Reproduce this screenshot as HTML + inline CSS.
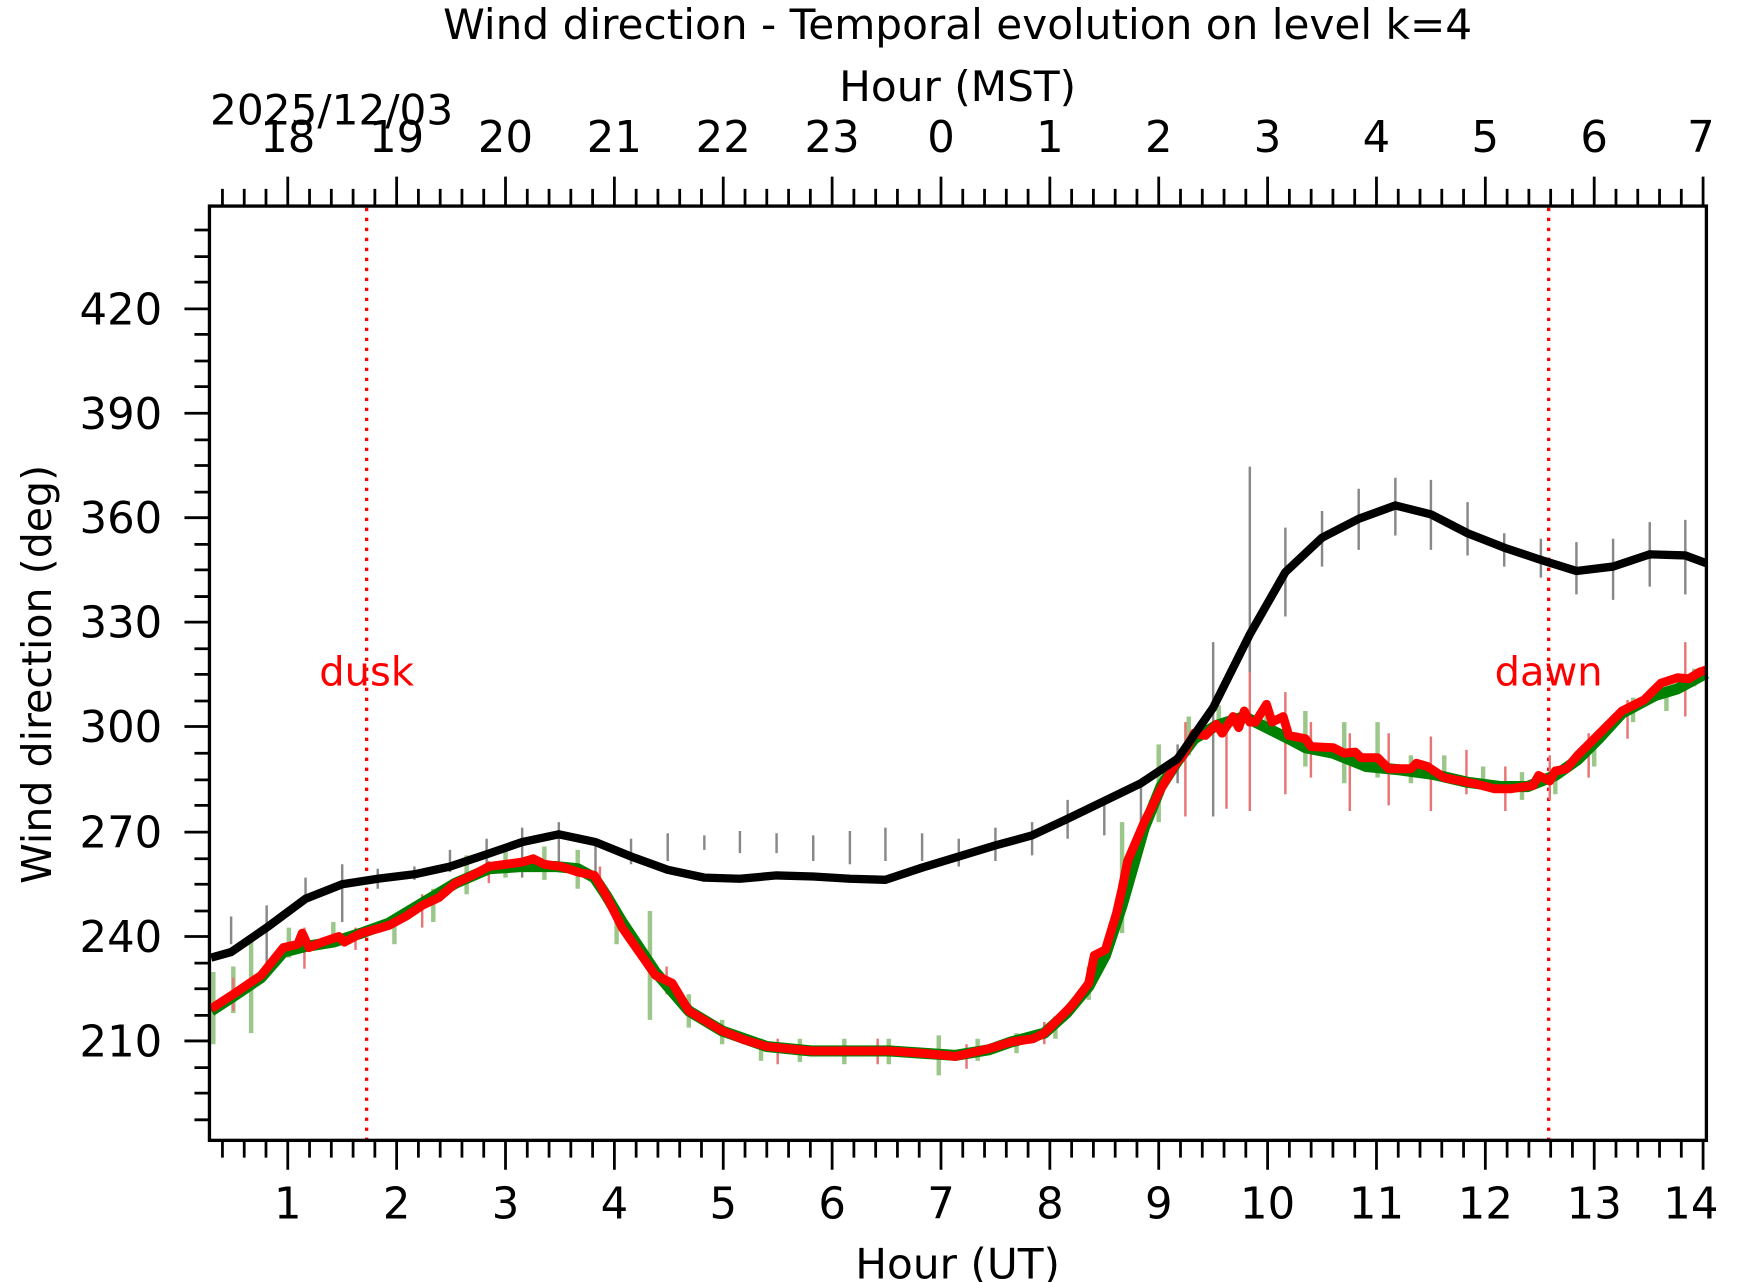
<!DOCTYPE html>
<html><head><meta charset="utf-8"><style>html,body{margin:0;padding:0;background:#fff}svg{display:block}</style></head>
<body>
<svg width="1742" height="1282" viewBox="0 0 1568 1154" xmlns="http://www.w3.org/2000/svg" font-family="DejaVu Sans, Liberation Sans, sans-serif">
<rect width="1568" height="1154" fill="#fff"/>
<line x1="330" y1="187" x2="330" y2="1026" stroke="red" stroke-width="3" stroke-dasharray="3,6"/>
<line x1="1394" y1="187" x2="1394" y2="1026" stroke="red" stroke-width="3" stroke-dasharray="3,6"/>
<text x="330" y="617" fill="red" font-size="36" text-anchor="middle">dusk</text>
<text x="1394" y="617" fill="red" font-size="36" text-anchor="middle">dawn</text>
<g stroke="#9cc78a" stroke-width="4">
<path d="M192 875V940M210 870V912M226 845V930M260 835V862M300 830V852M355 825V850M390 800V830M420 770V805M455 765V790M490 762V792M520 765V800M555 825V850M585 820V918M620 895V925M650 918V940M685 935V955M720 935V956M760 935V958M800 935V958M845 932V968M880 935V955M915 930V948M950 915V935M980 870V900M1010 740V840M1043 670V740M1070 645V680M1097 635V660M1140 640V655M1175 640V690M1210 650V705M1240 650V700M1270 680V705M1300 680V700M1335 690V710M1370 695V720M1400 690V715M1435 665V690M1470 628V650M1500 620V640M1525 602V618"/>
</g>
<g stroke="#e87575" stroke-width="2.2">
<path d="M210 880V910M274 835V872M320 835V855M380 805V835M440 775V795M540 780V800M600 870V895M700 935V958M790 935V958M870 940V962M940 920V940M1067 650V735M1104 655V728M1125 580V730M1157 623V715M1180 650V700M1215 660V730M1250 660V725M1288 663V730M1320 675V715M1355 690V730M1395 680V720M1430 660V700M1465 630V665M1517 578V645"/>
</g>
<g stroke="#888" stroke-width="2.2">
<path d="M208 825V850M240 815V870M275 790V812M308 778V830M340 782V800M373 780V792M405 765V785M438 755V780M470 745V790M503 740V780M536 755V790M568 755V778M601 750V775M634 752V765M666 748V768M699 750V768M732 752V775M765 748V778M797 745V775M830 750V775M863 755V780M896 745V775M929 740V770M961 720V755M994 718V752M1027 703V740M1060 670V705M1092 578V735M1125 420V605M1157 475V555M1190 460V510M1223 440V495M1256 430V482M1288 432V495M1321 452V500M1354 480V510M1387 485V520M1419 488V535M1452 485V540M1485 470V528M1517 468V535"/>
</g>
<polyline fill="none" stroke="#008000" stroke-width="10" stroke-linejoin="round" points="190,910 210,897 235,880 255,857 275,852 300,848 325,840 350,831 380,813 410,795 440,782 470,780 500,780 520,782 535,790 545,805 560,830 590,875 620,910 650,928 690,942 730,946 770,946 800,946 830,948 860,950 890,945 910,938 940,930 960,912 980,888 995,860 1010,815 1030,745 1045,708 1060,685 1075,665 1095,653 1120,645 1140,655 1160,665 1175,673 1200,678 1230,690 1260,693 1290,697 1320,704 1350,708 1375,708 1400,698 1420,684 1440,664 1460,642 1490,626 1510,620 1536,606"/>
<polyline fill="none" stroke="#ff0000" stroke-width="8" stroke-linejoin="round" points="190,908 210,895 235,878 255,853 268,850 272,840 278,853 290,848 305,843 310,848 325,840 340,836 350,833 365,825 380,815 395,808 410,795 425,788 440,780 455,778 470,776 480,773 490,778 505,780 520,785 535,788 545,805 560,835 590,878 605,885 620,910 650,928 670,936 690,942 730,946 770,946 800,946 830,948 860,951 890,944 910,938 930,935 940,930 960,910 965,905 980,885 985,860 995,855 1005,822 1010,800 1015,775 1030,740 1045,710 1060,685 1065,680 1075,660 1085,662 1095,652 1100,660 1110,645 1115,655 1120,640 1125,650 1130,650 1140,634 1145,650 1155,645 1160,662 1175,665 1180,672 1200,673 1210,678 1220,677 1225,682 1240,682 1250,692 1270,692 1275,687 1285,690 1300,700 1330,706 1345,710 1360,710 1380,707 1385,698 1395,703 1400,694 1410,692 1420,680 1440,660 1460,640 1480,630 1490,620 1495,615 1510,610 1520,611 1530,605 1536,603"/>
<polyline fill="none" stroke="#000" stroke-width="7.5" stroke-linejoin="round" points="190,862 208,857 240,835 275,809 308,796 340,791 373,787 405,780 438,769 470,758 503,751 536,758 568,771 601,783 634,790 666,791 699,788 732,789 765,791 797,792 830,781 863,771 896,761 929,752 961,737 994,721 1027,705 1060,683 1092,637 1125,571 1157,515 1190,484 1223,467 1256,455 1288,463 1321,480 1354,493 1387,504 1419,514 1452,510 1485,499 1517,500 1536,507"/>
<rect x="188.5" y="185.5" width="1347.5" height="841" fill="none" stroke="#000" stroke-width="3"/>
<g stroke="#000" stroke-width="2.5">
<path d="M259 1027v26M357 1027v26M455 1027v26M553 1027v26M651 1027v26M749 1027v26M847 1027v26M945 1027v26M1043 1027v26M1141 1027v26M1239 1027v26M1337 1027v26M1435 1027v26M1533 1027v26
M259 185v-26M357 185v-26M455 185v-26M553 185v-26M651 185v-26M749 185v-26M847 185v-26M945 185v-26M1043 185v-26M1141 185v-26M1239 185v-26M1337 185v-26M1435 185v-26M1533 185v-26"/>
<path id="mn" d="M200.2 1027v15M219.8 1027v15M239.4 1027v15M278.6 1027v15M298.2 1027v15M317.8 1027v15M337.4 1027v15M376.6 1027v15M396.2 1027v15M415.8 1027v15M435.4 1027v15M474.6 1027v15M494.2 1027v15M513.8 1027v15M533.4 1027v15M572.6 1027v15M592.2 1027v15M611.8 1027v15M631.4 1027v15M670.6 1027v15M690.2 1027v15M709.8 1027v15M729.4 1027v15M768.6 1027v15M788.2 1027v15M807.8 1027v15M827.4 1027v15M866.6 1027v15M886.2 1027v15M905.8 1027v15M925.4 1027v15M964.6 1027v15M984.2 1027v15M1003.8 1027v15M1023.4 1027v15M1062.6 1027v15M1082.2 1027v15M1101.8 1027v15M1121.4 1027v15M1160.6 1027v15M1180.2 1027v15M1199.8 1027v15M1219.4 1027v15M1258.6 1027v15M1278.2 1027v15M1297.8 1027v15M1317.4 1027v15M1356.6 1027v15M1376.2 1027v15M1395.8 1027v15M1415.4 1027v15M1454.6 1027v15M1474.2 1027v15M1493.8 1027v15M1513.4 1027v15"/>
<use href="#mn" transform="translate(0,1212) scale(1,-1)"/>
<path d="M188 937h-22M188 843h-22M188 749h-22M188 654h-22M188 560h-22M188 466h-22M188 372h-22M188 278h-22"/>
<path d="M188 1008h-13M188 984h-13M188 961h-13M188 914h-13M188 890h-13M188 867h-13M188 820h-13M188 796h-13M188 773h-13M188 725h-13M188 702h-13M188 678h-13M188 631h-13M188 607h-13M188 584h-13M188 537h-13M188 513h-13M188 490h-13M188 443h-13M188 419h-13M188 396h-13M188 348h-13M188 325h-13M188 301h-13M188 254h-13M188 231h-13M188 207h-13"/>
</g>
<g font-size="39" fill="#000">
<g text-anchor="end"><text x="146" y="951">210</text><text x="146" y="857">240</text><text x="146" y="763">270</text><text x="146" y="668">300</text><text x="146" y="574">330</text><text x="146" y="480">360</text><text x="146" y="386">390</text><text x="146" y="292">420</text></g>
<g text-anchor="middle"><text x="259" y="1097">1</text><text x="357" y="1097">2</text><text x="455" y="1097">3</text><text x="553" y="1097">4</text><text x="651" y="1097">5</text><text x="749" y="1097">6</text><text x="847" y="1097">7</text><text x="945" y="1097">8</text><text x="1043" y="1097">9</text><text x="1141" y="1097">10</text><text x="1239" y="1097">11</text><text x="1337" y="1097">12</text><text x="1435" y="1097">13</text><text x="1522" y="1097">14</text>
<text x="259" y="137">18</text><text x="357" y="137">19</text><text x="455" y="137">20</text><text x="553" y="137">21</text><text x="651" y="137">22</text><text x="749" y="137">23</text><text x="847" y="137">0</text><text x="945" y="137">1</text><text x="1043" y="137">2</text><text x="1141" y="137">3</text><text x="1239" y="137">4</text><text x="1337" y="137">5</text><text x="1435" y="137">6</text><text x="1531" y="137">7</text></g>
<g font-size="38">
<text x="189" y="112">2025/12/03</text>
<text x="862" y="91" text-anchor="middle">Hour (MST)</text>
<text x="862" y="35" text-anchor="middle">Wind direction - Temporal evolution on level k=4</text>
<text x="862" y="1151" text-anchor="middle">Hour (UT)</text>
</g>
<text transform="translate(46,607) rotate(-90)" text-anchor="middle" font-size="37">Wind direction (deg)</text>
</g>
</svg>
</body></html>
